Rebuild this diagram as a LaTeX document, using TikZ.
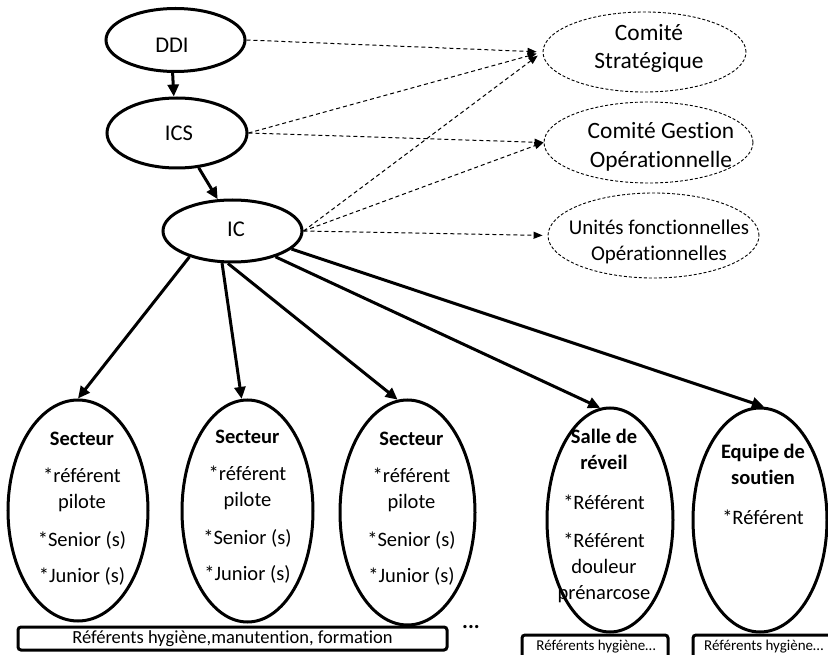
\documentclass[tikz,border=0pt]{standalone}
\usepackage{fontspec}
\setmainfont{Carlito}[Ligatures={NoCommon,NoContextual},RawFeature={-liga;-clig;-calt;-dlig}]
\usetikzlibrary{shapes.geometric,arrows.meta}

\begin{document}
\begin{tikzpicture}[x=1pt,y=-1pt,
  oval/.style={ellipse,draw,line width=3pt,inner sep=0pt},
  dashoval/.style={ellipse,draw,line width=0.9pt,dash pattern=on 3pt off 2pt,inner sep=0pt},
  link/.style={line width=3pt,-{Triangle[length=12pt,width=11pt]}},
  dlink/.style={line width=1pt,dash pattern=on 4pt off 3pt,-{Triangle[length=9pt,width=7pt]}},
  refbox/.style={draw,line width=3pt,rounded corners=3pt,inner sep=0pt},
  txt/.style={inner sep=0pt,align=center},
  topfont/.style={font=\fontsize{22.5}{27}\selectfont},
  comfont/.style={font=\fontsize{23.4}{28.5}\selectfont},
  unifont/.style={font=\fontsize{21}{25.5}\selectfont},
  secfont/.style={font=\fontsize{20.5}{26}\selectfont},
  smallfont/.style={font=\fontsize{15}{18}\selectfont},
]
\clip (0,0) rectangle (828,655);

% hierarchy
\node[oval,minimum width=139pt,minimum height=63pt] (ddi) at (175.5,40) {};
\node[oval,minimum width=140pt,minimum height=70pt] (ics) at (177,133) {};
\node[oval,minimum width=139pt,minimum height=62pt] (ic) at (232.5,231) {};
\node[txt,topfont] (ddit) at (172,45.3) {DDI};
\node[txt,topfont] (icst) at (179,133.5) {ICS};
\node[txt,topfont] (ict) at (236,229.5) {IC};

% committees
\node[dashoval,minimum width=203pt,minimum height=80pt] (cs) at (644.5,52) {};
\node[dashoval,minimum width=209pt,minimum height=81pt] (cg) at (648.5,142.5) {};
\node[dashoval,minimum width=211pt,minimum height=85pt] (uf) at (653.5,235.5) {};
\node[txt,comfont] (cst) at (649,48.5) {Comité\\Stratégique};
\node[txt,comfont] (cgt) at (661,147) {Comité Gestion\\Opérationnelle};
\node[txt,unifont] (uft) at (659,242) {Unités fonctionnelles\\Opérationnelles};

% sectors
\node[oval,minimum width=140pt,minimum height=221pt] (s1) at (78,510.5) {};
\node[oval,minimum width=131pt,minimum height=222pt] (s2) at (247.5,511) {};
\node[oval,minimum width=135pt,minimum height=225pt] (s3) at (407.5,512.5) {};
\node[oval,minimum width=126pt,minimum height=224pt] (sr) at (610,520) {};
\node[oval,minimum width=134pt,minimum height=224pt] (es) at (760,520) {};

\node[txt,secfont,anchor=north] (s1t) at (82,431.5)
  {\textbf{Secteur}\\[11pt]*référent\\pilote\\[12pt]*Senior (s)\\[10pt]*Junior (s)};
\node[txt,secfont,anchor=north] (s2t) at (247.5,429.5)
  {\textbf{Secteur}\\[11pt]*référent\\pilote\\[12pt]*Senior (s)\\[10pt]*Junior (s)};
\node[txt,secfont,anchor=north] (s3t) at (411.5,431.5)
  {\textbf{Secteur}\\[11pt]*référent\\pilote\\[12pt]*Senior (s)\\[10pt]*Junior (s)};
\node[txt,secfont,anchor=north] (srt) at (604,428.5)
  {\textbf{Salle de}\\\textbf{réveil}\\[14pt]*Référent\\[12pt]*Référent\\douleur\\prénarcose};
\node[txt,secfont,anchor=north] (est) at (763,443.5)
  {\textbf{Equipe de}\\\textbf{soutien}\\[14pt]*Référent};

% referents
\node[refbox,minimum width=429pt,minimum height=23pt,font=\fontsize{18.5}{22}\selectfont] (b1) at (232.5,638.5)
  {Référents hygiène,manutention, formation};
\node[refbox,minimum width=146pt,minimum height=30pt] (b2) at (595,650) {};
\node[refbox,minimum width=156pt,minimum height=30pt] (b3) at (771,650) {};
\node[txt,smallfont,anchor=base] (b2t) at (596,650.5) {Référents hygiène…};
\node[txt,smallfont,anchor=base west] (b3t) at (704,650.5) {Référents hygiène…};
\node[txt,font=\bfseries\fontsize{22}{24}\selectfont,anchor=base] (more) at (471,628) {...};

% solid links
\draw[link] (ddi.265) -- (ics.95);
\draw[link] (ics.302) -- (ic.115);
\draw[link] (ic.211) -- (s1.north);
\draw[link] (ic.252) -- (s2.93);
\draw[link] (ic.262) -- (s3.95);
\draw[link] (ic.329) -- (sr.95);
\draw[link] (ic.343) -- (es.88);

% dashed links
\draw[dlink,shorten >=6pt] (ddi.east) -- (cs.west);
\draw[dlink,shorten >=6pt] (ics.east) -- (cs.west);
\draw[dlink] (ics.east) -- (cg.west);
\draw[dlink,shorten >=6pt] (ic.east) -- (cs.west);
\draw[dlink] (ic.east) -- (cg.west);
\draw[dlink,shorten >=5pt] (ic.east) -- (uf.west);
\end{tikzpicture}
\end{document}
